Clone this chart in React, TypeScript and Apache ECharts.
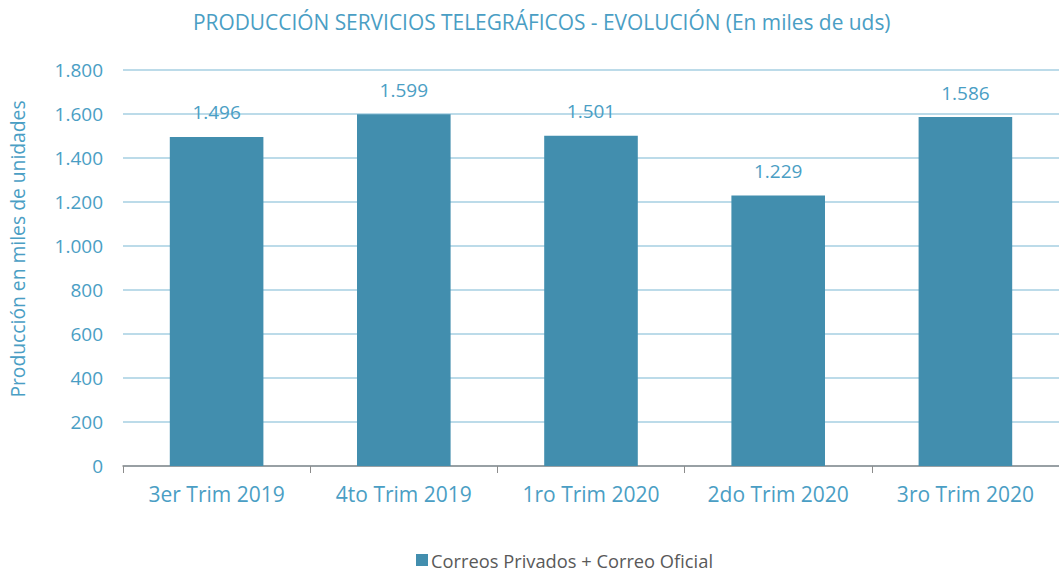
import React, { useEffect, useRef } from "react";
import * as echarts from "echarts";

const categories = ["3er Trim 2019", "4to Trim 2019", "1ro Trim 2020", "2do Trim 2020", "3ro Trim 2020"];
const values = [1496, 1599, 1501, 1229, 1586];
const seriesName = "Correos Privados + Correo Oficial";
const titleText = "PRODUCCIÓN SERVICIOS TELEGRÁFICOS - EVOLUCIÓN (En miles de uds)";
const yAxisName = "Producción en miles de unidades";

const fmt = (v: number) => String(v).replace(/\B(?=(\d{3})+(?!\d))/g, ".");

const BLUE_TXT = "#4a9ec4";
const FONT = "'Open Sans', 'Noto Sans', sans-serif";

export default function App() {
  const ref = useRef<HTMLDivElement>(null);
  useEffect(() => {
    document.body.style.margin = "0";
    const chart = echarts.init(ref.current!, null, { renderer: "svg" });
    chart.setOption({
      animation: false,
      backgroundColor: "#ffffff",
      title: {
        text: titleText,
        left: 188,
        top: 6,
        textStyle: { color: BLUE_TXT, fontSize: 20.9, fontWeight: "normal", fontFamily: FONT },
      },
      legend: {
        top: 546,
        left: 411,
        padding: [5, 5, 0, 5],
        icon: "rect",
        itemWidth: 12,
        itemHeight: 12,
        itemGap: 4,
        textStyle: { color: "#595959", fontSize: 18.3, lineHeight: 18, fontFamily: FONT, padding: [0, 0, 0, -2] },
        data: [seriesName],
      },
      graphic: [
        {
          type: "text",
          x: 17,
          y: 249,
          rotation: Math.PI / 2,
          style: {
            text: yAxisName,
            fill: BLUE_TXT,
            fontSize: 19.3,
            fontFamily: FONT,
            textAlign: "center",
            textVerticalAlign: "middle",
          },
        },
      ],
      grid: { left: 123, right: 0, top: 70, bottom: 109, containLabel: false },
      xAxis: {
        type: "category",
        data: categories,
        axisLine: { lineStyle: { color: "#8c8c8c", width: 1.5 } },
        axisTick: { show: true, length: 7, lineStyle: { color: "#8c8c8c" } },
        axisLabel: { color: BLUE_TXT, fontSize: 21, fontFamily: FONT, margin: 17 },
      },
      yAxis: {
        type: "value",
        min: 0,
        max: 1800,
        interval: 200,
        axisLabel: { color: BLUE_TXT, fontSize: 19, fontFamily: FONT, margin: 20, formatter: (v: number) => fmt(v) },
        axisLine: { show: false },
        axisTick: { show: false },
        splitLine: { lineStyle: { color: "#a6cfe2", width: 1.5 } },
      },
      series: [
        {
          name: seriesName,
          type: "bar",
          data: values,
          barWidth: "50%",
          itemStyle: { color: "#428eae" },
          label: {
            show: true,
            position: "top",
            distance: 15,
            color: BLUE_TXT,
            fontSize: 19,
            fontFamily: FONT,
            formatter: (p: any) => fmt(p.value),
          },
        },
      ],
    });
    return () => chart.dispose();
  }, []);
  return <div ref={ref} style={{ width: 1059, height: 575 }} />;
}
